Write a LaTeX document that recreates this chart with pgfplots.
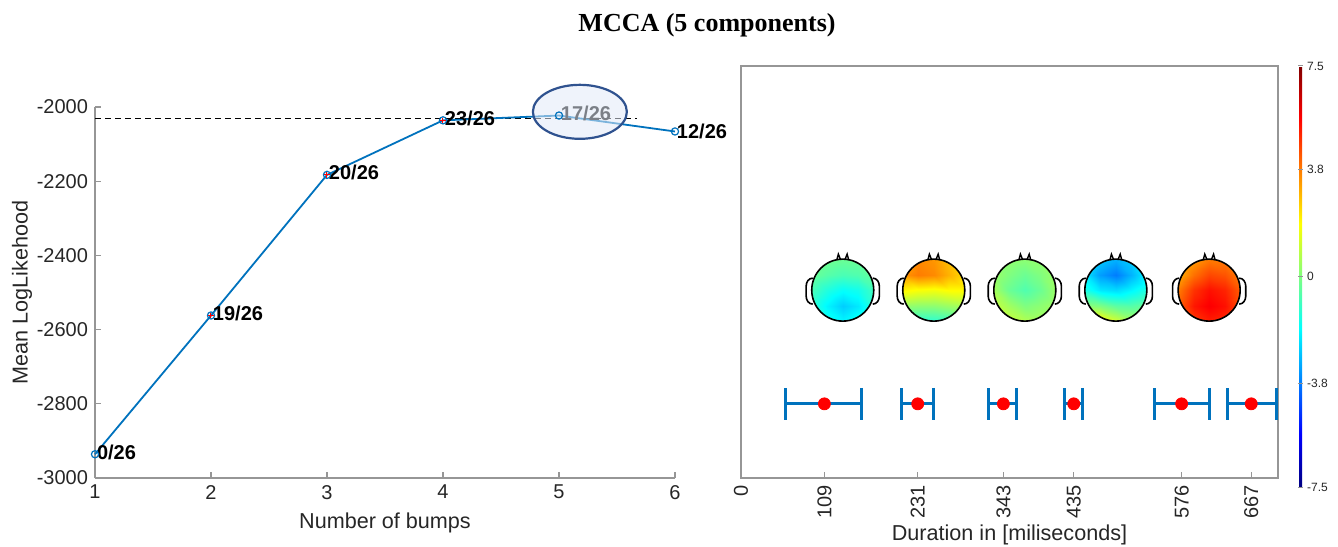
\documentclass[border=0pt]{standalone}
\usepackage{pgfplots}
\pgfplotsset{compat=1.18}
\usepackage{fontspec}
\setmainfont{Liberation Sans}
\newfontfamily\titlefont{Liberation Serif}
\definecolor{mblue}{RGB}{0,114,189}
\definecolor{axgray}{RGB}{150,150,150}
\definecolor{txtgray}{RGB}{38,38,38}
\definecolor{ellfill}{RGB}{225,233,247}
\definecolor{elldraw}{RGB}{47,82,143}
\newcommand\head[1]{%
  \fill[white, even odd rule] ([xshift=-17pt,yshift=-17pt]axis cs:#1,0.456) rectangle ([xshift=17pt,yshift=17pt]axis cs:#1,0.456) (axis cs:#1,0.456) circle [radius=15.5pt];
  \draw[line width=0.8pt] ([xshift=-15pt,yshift=6pt]axis cs:#1,0.456) to[out=180,in=90] ([xshift=-18.3pt,yshift=2pt]axis cs:#1,0.456) -- ([xshift=-18.3pt,yshift=-3pt]axis cs:#1,0.456) to[out=-90,in=180] ([xshift=-15pt,yshift=-7pt]axis cs:#1,0.456);
  \draw[line width=0.8pt] ([xshift=15pt,yshift=6pt]axis cs:#1,0.456) to[out=0,in=90] ([xshift=18.3pt,yshift=2pt]axis cs:#1,0.456) -- ([xshift=18.3pt,yshift=-3pt]axis cs:#1,0.456) to[out=-90,in=0] ([xshift=15pt,yshift=-7pt]axis cs:#1,0.456);
  \draw[line width=0.7pt] ([xshift=-3pt,yshift=15pt]axis cs:#1,0.456) -- ([xshift=-2.2pt,yshift=18pt]axis cs:#1,0.456) -- ([xshift=-1.2pt,yshift=15.5pt]axis cs:#1,0.456);
  \draw[line width=0.7pt] ([xshift=3pt,yshift=15pt]axis cs:#1,0.456) -- ([xshift=2.2pt,yshift=18pt]axis cs:#1,0.456) -- ([xshift=1.2pt,yshift=15.5pt]axis cs:#1,0.456);
  \draw[line width=0.8pt] (axis cs:#1,0.456) circle [radius=15.5pt];
}
\begin{document}
\begin{tikzpicture}
\useasboundingbox (0,0) rectangle (669pt,273pt);
\node[font=\titlefont\bfseries\fontsize{13}{15}\selectfont] at (353.5pt,260.5pt) {MCCA (5 components)};

\begin{axis}[
  at={(47.5pt,34pt)}, anchor=south west,
  scale only axis, width=290pt, height=185.5pt,
  xmin=1, xmax=6, ymin=-3000, ymax=-2000,
  axis x line*=bottom, axis y line*=left,
  axis line style={-, axgray, line width=0.6pt},
  tick align=inside, major tick length=3pt,
  tick style={axgray, line width=0.6pt},
  xtick={1,2,3,4,5,6},
  ytick={-3000,-2800,-2600,-2400,-2200,-2000},
  yticklabels={-3000,-2800,-2600,-2400,-2200,-2000},
  /pgf/number format/assume math mode=true,
  tick label style={font=\fontsize{10}{12}\selectfont, text=txtgray},
  label style={font=\fontsize{10.8}{13}\selectfont, text=txtgray},
  xlabel={Number of bumps},
  ylabel={Mean LogLikehood},
  xlabel style={at={(axis description cs:0.5,-0.121)}, anchor=center},
  ylabel style={at={(axis description cs:-0.126,0.5)}, anchor=center},
  clip=false,
]
\addplot[black, line width=0.6pt, dash pattern=on 3pt off 2pt] coordinates {(1,-2030) (5.67,-2030)};
\addplot[mblue, line width=0.9pt, mark=o, mark size=1.8pt, mark options={solid, line width=0.6pt}]
  coordinates {(1,-2936) (2,-2562) (3,-2183) (4,-2036) (5,-2023) (6,-2066)};
\addplot[red, only marks, mark=+, mark size=1.4pt, line width=0.5pt]
  coordinates {(2,-2562) (3,-2183) (4,-2036)};
\node[anchor=west, inner sep=0pt, xshift=0.8pt, yshift=1pt, font=\bfseries\fontsize{10}{12}\selectfont] at (axis cs:1,-2936) {0/26};
\node[anchor=west, inner sep=0pt, xshift=0.8pt, yshift=1pt, font=\bfseries\fontsize{10}{12}\selectfont] at (axis cs:2,-2562) {19/26};
\node[anchor=west, inner sep=0pt, xshift=0.8pt, yshift=1pt, font=\bfseries\fontsize{10}{12}\selectfont] at (axis cs:3,-2183) {20/26};
\node[anchor=west, inner sep=0pt, xshift=0.8pt, yshift=1pt, font=\bfseries\fontsize{10}{12}\selectfont] at (axis cs:4,-2036) {23/26};
\node[anchor=west, inner sep=0pt, xshift=0.8pt, yshift=1pt, font=\bfseries\fontsize{10}{12}\selectfont] at (axis cs:5,-2023) {17/26};
\node[anchor=west, inner sep=0pt, xshift=0.8pt, yshift=0pt, font=\bfseries\fontsize{10}{12}\selectfont] at (axis cs:6,-2066) {12/26};
\draw[draw=elldraw, line width=1.1pt, fill=ellfill, fill opacity=0.55] (axis cs:5.18,-2013) ellipse [x radius=23.5pt, y radius=13.5pt];
\end{axis}

\begin{axis}[
  at={(370.5pt,34pt)}, anchor=south west,
  scale only axis, width=268.5pt, height=206pt,
  xmin=0, xmax=702, ymin=0, ymax=1,
  axis line style={axgray, line width=0.6pt},
  tick align=inside, major tick length=3pt,
  tick style={axgray, line width=0.6pt},
  xtick={0,109,231,343,435,576,667},
  xtick pos=bottom,
  ytick=\empty,
  /pgf/number format/assume math mode=true,
  xticklabel style={rotate=90, anchor=east, font=\fontsize{10}{12}\selectfont, text=txtgray},
  xlabel={Duration in [miliseconds]},
  xlabel style={at={(axis description cs:0.5,-0.138)}, anchor=center, font=\fontsize{10.8}{13}\selectfont, text=txtgray},
  clip=false,
  colorbar,
  colormap/jet,
  point meta min=-7.5, point meta max=7.5,
  colorbar style={
    at={(parent axis.north east)}, anchor=north west, xshift=2pt,
    scale only axis, width=1.5pt, height=210.5pt,
    ytick={-7.5,-3.8,0,3.8,7.5},
    yticklabels={-7.5,-3.8,0,3.8,7.5},
    yticklabel style={font=\fontsize{6}{7}\selectfont, text=txtgray, xshift=-1pt},
    axis line style={draw=none},
    major tick length=2pt,
    tick style={axgray, line width=0.5pt},
  },
]
% topographic maps (5x5 grids of amplitude values, rows bottom to top)
\addplot[surf, shader=interp, mesh/cols=5, point meta=explicit] table[meta=c] {
x y c
92.5 0.3808 -1.0
112.75 0.3808 -1.6
133 0.3808 -2.0
153.25 0.3808 -1.6
173.5 0.3808 -1.0
92.5 0.4184 -1.2
112.75 0.4184 -2.0
133 0.4184 -2.6
153.25 0.4184 -2.2
173.5 0.4184 -1.2
92.5 0.456 -0.8
112.75 0.456 -1.4
133 0.456 -1.8
153.25 0.456 -1.6
173.5 0.456 -0.9
92.5 0.4936 -0.3
112.75 0.4936 -0.6
133 0.4936 -0.8
153.25 0.4936 -0.7
173.5 0.4936 -0.4
92.5 0.5312 0.0
112.75 0.5312 -0.2
133 0.5312 -0.3
153.25 0.5312 -0.3
173.5 0.5312 -0.1
};
\addplot[surf, shader=interp, mesh/cols=5, point meta=explicit] table[meta=c] {
x y c
211.5 0.3808 -0.8
231.75 0.3808 -1.2
252 0.3808 -1.2
272.25 0.3808 -1.0
292.5 0.3808 -0.6
211.5 0.4184 0.3
231.75 0.4184 0.2
252 0.4184 0.2
272.25 0.4184 0.4
292.5 0.4184 0.6
211.5 0.456 2.0
231.75 0.456 1.8
252 0.456 1.7
272.25 0.456 1.9
292.5 0.456 1.9
211.5 0.4936 3.4
231.75 0.4936 3.8
252 0.4936 3.6
272.25 0.4936 3.0
292.5 0.4936 2.4
211.5 0.5312 3.0
231.75 0.5312 3.6
252 0.5312 3.4
272.25 0.5312 2.8
292.5 0.5312 2.2
};
\addplot[surf, shader=interp, mesh/cols=5, point meta=explicit] table[meta=c] {
x y c
330.5 0.3808 1.2
350.75 0.3808 1.0
371 0.3808 0.7
391.25 0.3808 0.6
411.5 0.3808 0.6
330.5 0.4184 1.0
350.75 0.4184 0.5
371 0.4184 0.0
391.25 0.4184 0.2
411.5 0.4184 0.5
330.5 0.456 0.5
350.75 0.456 -0.3
371 0.456 -0.7
391.25 0.456 -0.3
411.5 0.456 0.4
330.5 0.4936 0.4
350.75 0.4936 0.0
371 0.4936 -0.3
391.25 0.4936 0.0
411.5 0.4936 0.4
330.5 0.5312 0.4
350.75 0.5312 0.3
371 0.5312 0.2
391.25 0.5312 0.3
411.5 0.5312 0.4
};
\addplot[surf, shader=interp, mesh/cols=5, point meta=explicit] table[meta=c] {
x y c
449.5 0.3808 1.6
469.75 0.3808 2.0
490 0.3808 1.2
510.25 0.3808 0.6
530.5 0.3808 0.6
449.5 0.4184 0.2
469.75 0.4184 0.0
490 0.4184 -0.5
510.25 0.4184 -0.6
530.5 0.4184 -0.3
449.5 0.456 -1.5
469.75 0.456 -2.2
490 0.456 -2.4
510.25 0.456 -2.0
530.5 0.456 -1.4
449.5 0.4936 -2.2
469.75 0.4936 -3.3
490 0.4936 -3.8
510.25 0.4936 -3.0
530.5 0.4936 -2.0
449.5 0.5312 -1.8
469.75 0.5312 -2.6
490 0.5312 -3.0
510.25 0.5312 -2.6
530.5 0.5312 -1.8
};
\addplot[surf, shader=interp, mesh/cols=5, point meta=explicit] table[meta=c] {
x y c
571.5 0.3808 3.8
591.75 0.3808 4.8
612 0.3808 5.2
632.25 0.3808 5.0
652.5 0.3808 4.2
571.5 0.4184 4.2
591.75 0.4184 5.3
612 0.4184 5.7
632.25 0.4184 5.4
652.5 0.4184 4.5
571.5 0.456 3.8
591.75 0.456 4.9
612 0.456 5.4
632.25 0.456 5.1
652.5 0.456 4.3
571.5 0.4936 3.0
591.75 0.4936 4.0
612 0.4936 4.6
632.25 0.4936 4.4
652.5 0.4936 3.8
571.5 0.5312 2.6
591.75 0.5312 3.3
612 0.5312 3.8
632.25 0.5312 3.8
652.5 0.5312 3.4
};
\head{133}
\head{252}
\head{371}
\head{490}
\head{612}
\addplot[only marks, mark=*, mark size=3pt, red, mark options={draw=red, fill=red},
  error bars/.cd, x dir=both, x explicit,
  error bar style={mblue, line width=1.5pt},
  error mark options={mblue, line width=1.5pt, mark size=8pt, rotate=90}]
  coordinates {
  (109,0.18) += (48,0) -= (51,0)
  (231,0.18) += (21,0) -= (21,0)
  (343,0.18) += (17,0) -= (19,0)
  (435,0.18) += (11,0) -= (12,0)
  (576,0.18) += (37,0) -= (36,0)
  (667,0.18) += (33,0) -= (31,0)
  };
\end{axis}
\end{tikzpicture}
\end{document}
